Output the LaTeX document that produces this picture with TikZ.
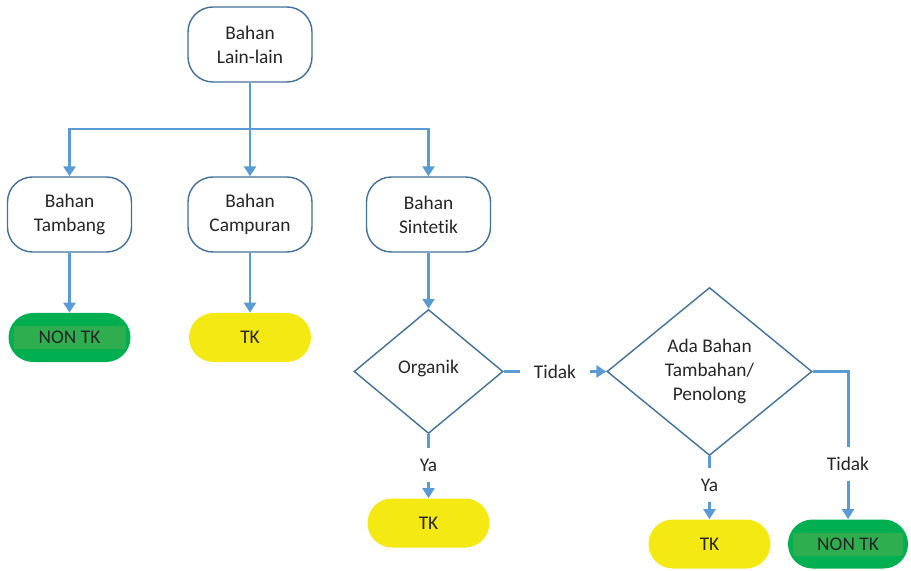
\documentclass[tikz,border=0pt]{standalone}
\usepackage{fontspec}
\setmainfont{Carlito}[Ligatures=NoCommon]
\definecolor{LineBlue}{RGB}{91,155,213}
\definecolor{EdgeBlue}{RGB}{65,113,156}
\definecolor{NonGreen}{RGB}{0,176,80}
\definecolor{BandGreen}{RGB}{46,174,78}
\definecolor{TkYellow}{RGB}{245,233,20}
\definecolor{TextGray}{RGB}{38,38,38}
\usetikzlibrary{arrows.meta, shapes.geometric, calc}

\begin{document}
\begin{tikzpicture}[font=\fontsize{11}{13.6}\selectfont, text=TextGray,
  box/.style={draw=EdgeBlue, line width=0.8pt, rounded corners=0.5cm, fill=white, align=center, minimum width=2.48cm, minimum height=1.5cm, inner sep=0pt},
  term/.style={rounded corners=0.49cm, minimum width=2.44cm, minimum height=0.98cm, inner sep=0pt}, tk/.style={term, fill=TkYellow},
  nontk/.style={term, fill=NonGreen, path picture={\fill[BandGreen, sharp corners] ($(path picture bounding box.west)+(0.1,-0.23)$) rectangle ($(path picture bounding box.east)+(-0.1,0.23)$);}},
  dec/.style={diamond, draw=EdgeBlue, line width=0.8pt, align=center, inner sep=0pt},
  lbl/.style={inner xsep=0.28cm, inner ysep=0pt, minimum height=0.68cm},
  ln/.style={LineBlue, line width=1.7pt}, ar/.style={ln, -{Triangle[width=0.24cm, length=0.2cm]}}]
\useasboundingbox (0,0) rectangle (18.22,11.4);
\node[box] (lain) at (5.00,10.51) {Bahan\\Lain-lain};
\coordinate (cabang) at (5.00,8.82);
\node[box] (tambang) at (1.39,7.11) {Bahan\\Tambang};
\node[box] (campuran) at (5.00,7.11) {Bahan\\Campuran};
\node[box] (sintetik) at (8.57,7.11) {Bahan\\Sintetik};
\node[nontk] (non1) at (1.39,4.65) {NON TK};
\node[tk] (tk1) at (5.00,4.65) {TK};
\node[dec, minimum width=2.98cm, minimum height=2.48cm] (organik) at (8.57,3.97) {\raisebox{5pt}{Organik}};
\node[lbl] (tidak1) at (11.10,3.97) {Tidak};
\node[dec, minimum width=4.10cm, minimum height=3.36cm] (ada) at (14.19,3.97) {Ada Bahan\\Tambahan/\\Penolong};
\node[lbl] (ya1) at (8.57,2.10) {Ya};
\node[tk] (tk2) at (8.57,0.94) {TK};
\node[lbl] (ya2) at (14.19,1.70) {Ya};
\node[tk] (tk3) at (14.19,0.52) {TK};
\node[lbl] (tidak2) at (16.96,2.12) {Tidak};
\node[nontk, minimum width=2.40cm] (non2) at (16.96,0.52) {NON TK};
% cabang atas
\draw[ln] (lain.south) -- (cabang);
\draw[ar] (cabang) -| (tambang.north); \draw[ar] (cabang) -- (campuran.north); \draw[ar] (cabang) -| (sintetik.north);
\draw[ar] (tambang) -- (non1); \draw[ar] (campuran) -- (tk1); \draw[ar] (sintetik) -- (organik);
% keputusan
\draw[ln] (organik.east) -- (tidak1.west); \draw[ar] (tidak1.east) -- (ada.west);
\draw[ln] (organik.south) -- (ya1.north); \draw[ar] (ya1.south) -- (tk2.north);
\draw[ln] (ada.south) -- (ya2.north); \draw[ar] (ya2.south) -- (tk3.north);
\draw[ln] (ada.east) -| (tidak2.north); \draw[ar] (tidak2.south) -- (non2.north);
\end{tikzpicture}
\end{document}
